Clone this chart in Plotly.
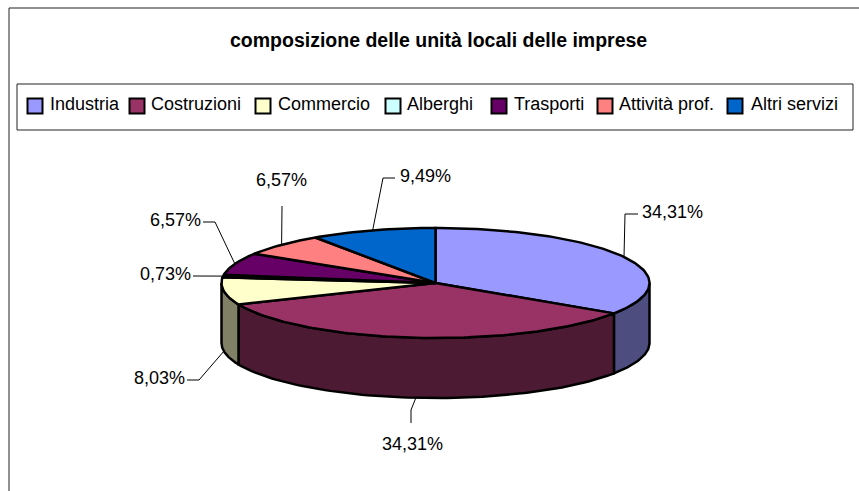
import numpy as np
import plotly.graph_objects as go

title = "composizione delle unità locali delle imprese"
categories = ["Industria", "Costruzioni", "Commercio", "Alberghi", "Trasporti", "Attività prof.", "Altri servizi"]
values = [34.31, 34.31, 8.03, 0.73, 6.57, 6.57, 9.49]
colors = ["#9999FF", "#993366", "#FFFFCC", "#CCFFFF", "#660066", "#FF8080", "#0066CC"]
wall_colors = ["#4D4D80", "#4D1A33", "#808066", "#668080", "#330033", "#804040", "#003366"]

# layout furniture (page pixels)
CX, CY, RX, RY, DEPTH = 435.5, 283, 214, 55, 60
FONT = "Liberation Sans, Arial, sans-serif"
swatch_x = [35, 137, 263, 393, 499, 605, 735]
text_x = [48, 149, 276, 405, 512, 617, 749]
label_pos = [(672.5, 212), (412, 444), (159, 378), (165, 274), (175, 220), (281, 180), (425, 176)]
elbows = [[(625, 214), (638, 214)], [(411, 410), (411, 423)], [(199, 380), (187, 380)], [(193, 276)],
          [(215, 222), (203, 222)], [(282, 206)], [(383, 178), (395, 178)]]


def pt(theta, drop=0.0):
    return CX + RX * np.sin(theta), CY - RY * np.cos(theta) + drop


fractions = np.array(values) / sum(values)
edges = np.concatenate([[0.0], np.cumsum(fractions)]) * 2 * np.pi
fig = go.Figure()

# side walls (front half only)
for i, name in enumerate(categories):
    a, b = max(edges[i], np.pi / 2), min(edges[i + 1], 3 * np.pi / 2)
    if b <= a:
        continue
    th = np.linspace(a, b, 80)
    x1, y1 = pt(th)
    x2, y2 = pt(th[::-1], DEPTH)
    fig.add_trace(go.Scatter(x=np.r_[x1, x2, x1[0]], y=np.r_[y1, y2, y1[0]], mode="lines", fill="toself",
                             fillcolor=wall_colors[i], line=dict(color="black", width=2.5),
                             name=name + " (lato)", hoverinfo="skip", showlegend=False))

# top faces
for i, name in enumerate(categories):
    th = np.linspace(edges[i], edges[i + 1], max(int(fractions[i] * 300), 8))
    x, y = pt(th)
    fig.add_trace(go.Scatter(x=np.r_[CX, x, CX], y=np.r_[CY, y, CY], mode="lines", fill="toself",
                             fillcolor=colors[i], line=dict(color="black", width=2.5), name=name,
                             text=f"{name}: {values[i]:.2f}%", hoverinfo="text", showlegend=False))

# leader lines and data labels
for i, name in enumerate(categories):
    mid = (edges[i] + edges[i + 1]) / 2
    drop = DEPTH if np.pi * 0.5 < mid < np.pi * 1.5 else 0
    ax, ay = pt(mid, drop)
    pts = [(ax, ay)] + elbows[i]
    fig.add_trace(go.Scatter(x=[p[0] for p in pts], y=[p[1] for p in pts], mode="lines",
                             line=dict(color="black", width=1), hoverinfo="skip", showlegend=False))
    fig.add_annotation(x=label_pos[i][0], y=label_pos[i][1], text=f"{values[i]:.2f}%".replace(".", ","),
                       showarrow=False, font=dict(family=FONT, size=18, color="black"))

# legend
fig.add_shape(type="rect", x0=17, y0=84, x1=853, y1=130, line=dict(color="#222222", width=1), fillcolor="white", layer="below")
for i, label in enumerate(categories):
    fig.add_trace(go.Scatter(x=[swatch_x[i]], y=[106], mode="markers",
                             marker=dict(symbol="square", size=15, color=colors[i], line=dict(color="black", width=2)),
                             name=categories[i], hoverinfo="name", showlegend=False))
    fig.add_annotation(x=text_x[i], y=104, text=label, xanchor="left", showarrow=False,
                       font=dict(family=FONT, size=18, color="black"))

# outer frame (top and left only)
fig.add_shape(type="line", x0=9, y0=8, x1=859, y1=8, line=dict(color="#222222", width=1))
fig.add_shape(type="line", x0=9, y0=8, x1=9, y1=491, line=dict(color="#222222", width=1))

fig.add_annotation(x=438.5, y=40, text=f"<b>{title}</b>", showarrow=False,
                   font=dict(family=FONT, size=19.5, color="black"))

fig.update_layout(width=859, height=491, margin=dict(l=0, r=0, t=0, b=0), autosize=False,
                  paper_bgcolor="white", plot_bgcolor="white", showlegend=False,
                  xaxis=dict(range=[0, 859], visible=False, fixedrange=True),
                  yaxis=dict(range=[491, 0], visible=False, fixedrange=True))
fig.write_html("out.html", config={"displayModeBar": False},
               post_script="document.body.style.margin='0';document.documentElement.style.overflow='hidden';")
